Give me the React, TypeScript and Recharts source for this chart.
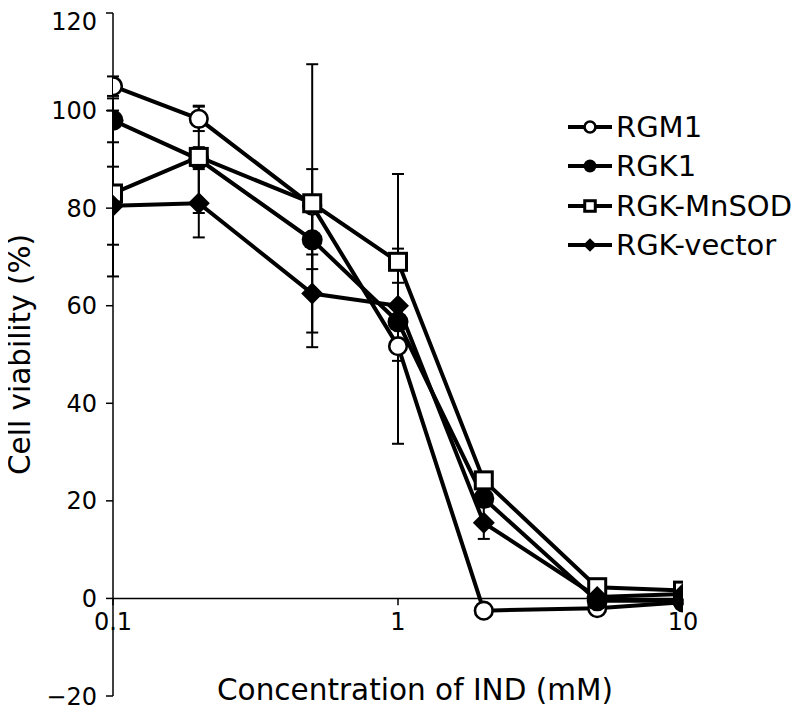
import {
  LineChart,
  Line,
  XAxis,
  YAxis,
  ErrorBar,
  ReferenceLine,
  ReferenceDot,
  Legend,
} from "recharts";

const concentrations = [0.1, 0.2, 0.5, 1, 2, 5, 10];
const rgm1 = [105, 98.3, 80.5, 51.7, -2.5, -2, -0.8];
const rgm1Err = [2, 2.5, 29, 20, 0, 0, 0];
const rgk1 = [98, 90, 73.5, 56.7, 20.5, -0.5, -0.5];
const rgk1Err = [4.5, 11, 6, 8, 0, 0, 0];
const mnsod = [83, 90.5, 81, 69, 24.2, 2.3, 1.6];
const mnsodErr = [17, 2, 7, 18, 0, 0, 0];
const vector = [80.5, 81, 62.5, 60, 15.5, 0.3, 0.9];
const vectorErr = [8, 7, 8, 0, 3.3, 0, 0];

const xTicks = [0.1, 1, 10];
const yTicks = [-20, 0, 20, 40, 60, 80, 100, 120];

const font = "'DejaVu Sans', Verdana, sans-serif";

type Shape = "openCircle" | "circle" | "openSquare" | "diamond";

const series: { key: string; values: number[]; err: number[]; shape: Shape }[] = [
  { key: "RGM1", values: rgm1, err: rgm1Err, shape: "openCircle" },
  { key: "RGK1", values: rgk1, err: rgk1Err, shape: "circle" },
  { key: "RGK-MnSOD", values: mnsod, err: mnsodErr, shape: "openSquare" },
  { key: "RGK-vector", values: vector, err: vectorErr, shape: "diamond" },
];

const data = concentrations.map((x, i) => {
  const row: Record<string, number> = { x };
  series.forEach((s) => {
    row[s.key] = s.values[i];
    row[s.key + "_err"] = s.err[i];
  });
  return row;
});

function Marker({ cx, cy, shape, k = 1 }: { cx: number; cy: number; shape: Shape; k?: number }) {
  if (cx == null || cy == null) return null;
  if (shape === "openCircle")
    return <circle cx={cx} cy={cy} r={8.8 * k} fill="#fff" stroke="#000" strokeWidth={2.6} />;
  if (shape === "circle") return <circle cx={cx} cy={cy} r={10.5 * k} fill="#000" />;
  if (shape === "openSquare") {
    const h = 8.5 * k;
    return <rect x={cx - h} y={cy - h} width={2 * h} height={2 * h} fill="#fff" stroke="#000" strokeWidth={3} />;
  }
  const d = 11 * k;
  return <polygon points={`${cx},${cy - d} ${cx + d},${cy} ${cx},${cy + d} ${cx - d},${cy}`} fill="#000" />;
}

function LegendBox() {
  return (
    <div style={{ fontFamily: font, fontSize: 29, color: "#000" }}>
      {series.map((s) => (
        <div key={s.key} style={{ display: "flex", alignItems: "center", height: 39.5 }}>
          <svg width={46} height={24}>
            <line x1={1} x2={45} y1={12} y2={12} stroke="#000" strokeWidth={4} />
            <Marker cx={23} cy={12} shape={s.shape} k={0.62} />
          </svg>
          <span style={{ marginLeft: 3, whiteSpace: "nowrap" }}>{s.key}</span>
        </div>
      ))}
    </div>
  );
}

export default function App() {
  return (
    <div style={{ fontFamily: font, marginLeft: -8 }}>
      <LineChart width={799} height={710} data={data} margin={{ top: 5, right: 116, bottom: 0, left: 0 }}>
        <XAxis
          dataKey="x"
          type="number"
          scale="log"
          domain={[0.1, 10]}
          ticks={xTicks}
          allowDataOverflow
          height={22}
          axisLine={false}
          tickLine={false}
          tick={false}
          label={{ value: "Concentration of IND (mM)", position: "insideBottom", offset: 18, fontSize: 29.5, fill: "#000", dx: 17 }}
        />
        <YAxis
          type="number"
          domain={[-20, 120]}
          ticks={yTicks}
          width={113}
          axisLine={{ stroke: "#000", strokeWidth: 1.5 }}
          tickLine={{ stroke: "#000", strokeWidth: 1.5 }}
          tickSize={7}
          tickMargin={9}
          tick={{ fill: "#000", fontSize: 24 }}
          tickFormatter={(v: number) => (v < 0 ? `\u2212${-v}` : String(v))}
          label={{
            value: "Cell viability (%)",
            angle: -90,
            position: "insideLeft",
            offset: 20,
            fontSize: 29.5,
            fill: "#000",
            style: { textAnchor: "middle" },
          }}
        />
        <ReferenceLine y={0} stroke="#000" strokeWidth={1.5} />
        {xTicks.map((t) => (
          <ReferenceLine
            key={"tl" + t}
            segment={[
              { x: t, y: 0 },
              { x: t, y: -1.4 },
            ]}
            stroke="#000"
            strokeWidth={1.5}
          />
        ))}
        {xTicks.map((t) => (
          <ReferenceDot
            key={"lb" + t}
            x={t}
            y={0}
            r={0}
            fill="none"
            stroke="none"
            label={{ value: String(t), position: "bottom", offset: 15, fontSize: 24, fill: "#000" }}
          />
        ))}
        {series.map((s) => (
          <Line
            key={s.key}
            dataKey={s.key}
            name={s.key}
            type="linear"
            stroke="#000"
            strokeWidth={4}
            isAnimationActive={false}
            activeDot={false}
            dot={(p: any) => <Marker key={s.key + p.index} cx={p.cx} cy={p.cy} shape={s.shape} />}
          >
            <ErrorBar dataKey={s.key + "_err"} direction="y" width={6} stroke="#000" strokeWidth={2} />
          </Line>
        ))}
        <Legend
          layout="vertical"
          align="center"
          verticalAlign="middle"
          content={() => <LegendBox />}
          wrapperStyle={{ position: "absolute", top: 99, left: 567, width: 232 }}
        />
      </LineChart>
    </div>
  );
}
